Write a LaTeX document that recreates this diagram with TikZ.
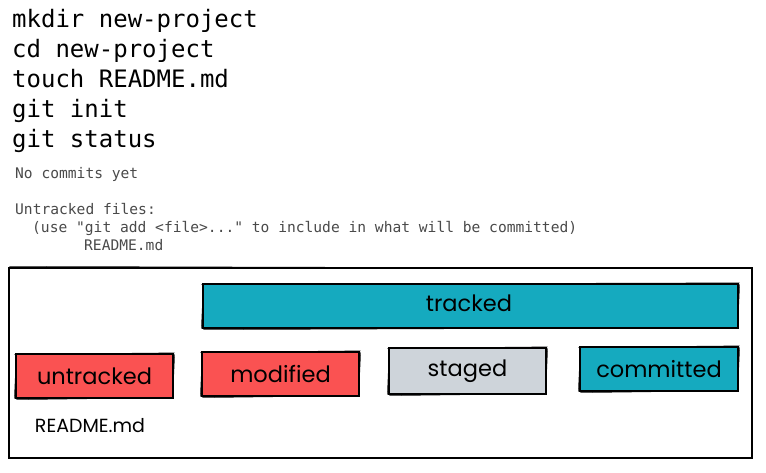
\documentclass[tikz,border=0pt]{standalone}
\usepackage{fontspec}
\setmonofont{DejaVu Sans Mono}
\newfontfamily\handfont{Poppins}
\begin{document}
\begin{tikzpicture}[x=1pt,y=-1pt,
  cmd/.style={anchor=base west,inner sep=0pt,font=\ttfamily\fontsize{24}{24}\selectfont,text=black},
  outtext/.style={anchor=base west,inner sep=0pt,font=\ttfamily\fontsize{14.6}{14.6}\selectfont,text=outgray},
  box/.style={draw=black,line width=1.3pt,inner sep=0pt,font=\handfont\fontsize{22.5}{22.5}\selectfont,text=black},
  hand/.style={inner sep=0pt,font=\handfont\fontsize{19}{19}\selectfont,text=black}]
\definecolor{outgray}{HTML}{4A4A4A}
\definecolor{xred}{HTML}{FA5252}
\definecolor{xteal}{HTML}{15AABF}
\definecolor{xgray}{HTML}{CED4DA}
\useasboundingbox[fill=white] (0,0) rectangle (766,473);
% commands
\node[cmd] (c1) at (12,28) {mkdir new-project};
\node[cmd] (c2) at (12,58) {cd new-project};
\node[cmd] (c3) at (12,88) {touch README.md};
\node[cmd] (c4) at (12,118) {git init};
\node[cmd] (c5) at (12,148) {git status};
% output
\node[outtext] (o1) at (15,179) {No commits yet};
\node[outtext] (o2) at (15,215) {Untracked files:};
\node[outtext] (o3) at (32,233) {(use "git add <file>..." to include in what will be committed)};
\node[outtext] (o4) at (84,251) {README.md};
% frame
\node[draw=black,line width=1.2pt,minimum width=743pt,minimum height=190pt,inner sep=0pt] (frame) at (380.5,363) {};
\draw[line width=0.5pt] ([shift={(1,-1)}]frame.north west) -- ([shift={(-1,1)}]frame.north east);
% boxes
\node[box,fill=xteal,minimum width=535pt,minimum height=44pt] (tracked) at (470.5,306) {};
\node[inner sep=0pt,font=\handfont\fontsize{22.5}{22.5}\selectfont] (trackedlbl) at (469,303) {tracked};
\node[box,fill=xred,minimum width=157pt,minimum height=44pt] (untracked) at (94.5,376) {untracked};
\node[box,fill=xred,minimum width=157pt,minimum height=44pt] (modified) at (280.5,374) {modified};
\node[box,fill=xgray,minimum width=157pt,minimum height=46pt] (staged) at (467.5,371) {staged};
\node[box,fill=xteal,minimum width=158pt,minimum height=44pt] (committed) at (659,369) {committed};
% sketchy double strokes
\foreach \n in {tracked,untracked,modified,staged,committed}{
  \draw[line width=0.5pt] ([shift={(-1,1)}]\n.north west) -- ([shift={(1,-0.5)}]\n.north east)
        ([shift={(1,1)}]\n.south west) -- ([shift={(-1,-1)}]\n.south east)
        ([shift={(1,0)}]\n.north west) -- ([shift={(-1,0)}]\n.south west)
        ([shift={(1,1)}]\n.north east) -- ([shift={(-1,0)}]\n.south east);
}
\node[hand] (readme) at (90,426) {README.md};
\end{tikzpicture}
\end{document}
